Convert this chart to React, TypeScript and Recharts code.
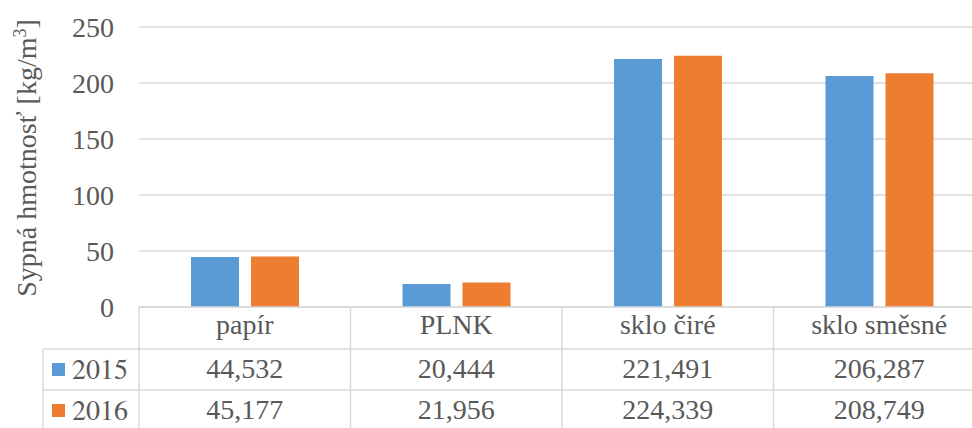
import { BarChart, Bar, XAxis, YAxis, CartesianGrid } from "recharts";

const categories = ["papír", "PLNK", "sklo čiré", "sklo směsné"];
const values2015 = [44.532, 20.444, 221.491, 206.287];
const values2016 = [45.177, 21.956, 224.339, 208.749];
const years = ["2015", "2016"];
const yTicks = [0, 50, 100, 150, 200, 250];

const COLORS = ["#5B9BD5", "#ED7D31"];
const TEXT = "#595959";
const LINE = "#D9D9D9";
const FONT_AXIS = "Liberation Serif";
const FONT_TABLE = "Tinos";
const FONT_LEGEND = "FreeSerif";
const FS = 28;

const CHART_W = 1000;
const CHART_H = 428;
const Y_AXIS_W = 139;
const MARGIN = { top: 27, right: 15, left: 0, bottom: 0 };
const BAND = (CHART_W - Y_AXIS_W - MARGIN.left - MARGIN.right) / categories.length;

const data = categories.map((name, i) => ({
  name,
  v2015: values2015[i],
  v2016: values2016[i],
}));

const fmt = (v: number) => v.toFixed(3).replace(".", ",");

const TableTick = (props: any) => {
  const { x, y, payload } = props;
  const i = payload.index;
  const left = x - BAND / 2;
  return (
    <g>
      <line x1={left} x2={left} y1={y} y2={y + 125} stroke={LINE} strokeWidth={1.5} />
      <text x={x} y={y + 27} textAnchor="middle" fill={TEXT} fontSize={FS} style={{ fontFamily: FONT_TABLE }}>
        {payload.value}
      </text>
      <text x={x} y={y + 71} textAnchor="middle" fill={TEXT} fontSize={FS} style={{ fontFamily: FONT_TABLE }}>
        {fmt(values2015[i])}
      </text>
      <text x={x} y={y + 112} textAnchor="middle" fill={TEXT} fontSize={FS} style={{ fontFamily: FONT_TABLE }}>
        {fmt(values2016[i])}
      </text>
    </g>
  );
};

const YLabel = () => (
  <text
    transform="translate(36, 158) rotate(-90)"
    textAnchor="middle"
    fill={TEXT}
    fontSize={FS}
    style={{ fontFamily: FONT_AXIS }}
  >
    Sypná hmotnosť [kg/m
    <tspan dy={-10} fontSize={18}>3</tspan>
    <tspan dy={10}>]</tspan>
  </text>
);

export default function App() {
  return (
    <div
      style={{
        position: "absolute",
        top: 0,
        left: 0,
        width: 972,
        height: 428,
        overflow: "hidden",
        background: "#fff",
      }}
    >
      <BarChart width={CHART_W} height={CHART_H} data={data} margin={MARGIN} barSize={48} barGap={12}>
        <CartesianGrid vertical={false} stroke={LINE} strokeWidth={1.5} />
        <XAxis
          dataKey="name"
          height={121}
          tickSize={0}
          tickMargin={0}
          axisLine={{ stroke: LINE, strokeWidth: 1.5 }}
          tickLine={false}
          tick={<TableTick />}
          interval={0}
        />
        <YAxis
          width={Y_AXIS_W}
          domain={[0, 250]}
          ticks={yTicks}
          axisLine={false}
          tickLine={false}
          tickSize={0}
          tickMargin={25}
          tick={{ fill: TEXT, fontSize: FS, style: { fontFamily: FONT_AXIS } }}
          label={<YLabel />}
        />
        <Bar dataKey="v2015" name={years[0]} fill={COLORS[0]} isAnimationActive={false} />
        <Bar dataKey="v2016" name={years[1]} fill={COLORS[1]} isAnimationActive={false} />
      </BarChart>
      <svg
        width={972}
        height={428}
        style={{ position: "absolute", top: 0, left: 0, pointerEvents: "none" }}
      >
        <line x1={43} x2={972} y1={349} y2={349} stroke={LINE} strokeWidth={1.5} />
        <line x1={43} x2={972} y1={390} y2={390} stroke={LINE} strokeWidth={1.5} />
        <line x1={43} x2={43} y1={349} y2={428} stroke={LINE} strokeWidth={1.5} />
        {years.map((yr, i) => (
          <g key={yr}>
            <rect x={52} y={363 + i * 41} width={13} height={13} fill={COLORS[i]} />
            <text x={72} y={379 + i * 41} fill={TEXT} fontSize={FS} style={{ fontFamily: FONT_LEGEND }}>
              {yr}
            </text>
          </g>
        ))}
      </svg>
    </div>
  );
}
